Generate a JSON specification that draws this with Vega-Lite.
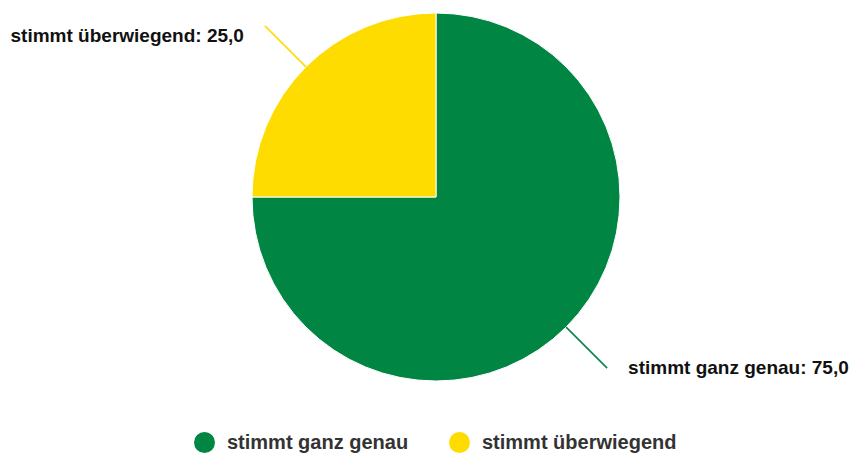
{
  "$schema": "https://vega.github.io/schema/vega-lite/v6.json",
  "autosize": {"type": "none"},
  "padding": {"left": 18, "top": 0, "right": 0, "bottom": 64},
  "width": 836,
  "height": 394,
  "background": "white",
  "config": {"view": {"stroke": null}},
  "data": {
    "values": [
      {"cat": "stimmt ganz genau", "value": 75.0, "label": "stimmt ganz genau: 75,0"},
      {"cat": "stimmt überwiegend", "value": 25.0, "label": "stimmt überwiegend: 25,0"}
    ]
  },
  "encoding": {
    "theta": {"field": "value", "type": "quantitative", "stack": true}
  },
  "layer": [
    {
      "mark": {"type": "arc", "outerRadius": 184, "stroke": "white", "strokeWidth": 1},
      "encoding": {
        "color": {
          "field": "cat",
          "type": "nominal",
          "scale": {"domain": ["stimmt ganz genau", "stimmt überwiegend"], "range": ["#008542", "#FFDC00"]},
          "legend": {
            "title": null,
            "orient": "none",
            "direction": "horizontal",
            "legendX": 176,
            "legendY": 432,
            "padding": 0,
            "symbolType": "circle",
            "symbolSize": 441,
            "symbolStrokeWidth": 0,
            "symbolOpacity": 1,
            "labelFont": "Liberation Sans",
            "labelFontSize": 20,
            "labelFontWeight": "bold",
            "labelColor": "#333333",
            "labelOffset": 12,
            "columnPadding": 40,
            "labelLimit": 400
          }
        }
      }
    },
    {
      "transform": [
        {"stack": "value", "groupby": [], "sort": [{"field": "cat", "order": "ascending"}], "as": ["v0", "v1"]},
        {"fold": ["v0", "v1"], "as": ["edge", "ang"]},
        {"aggregate": [{"op": "mean", "field": "ang", "as": "mid"}], "groupby": ["cat"]}
      ],
      "mark": {"type": "arc", "innerRadius": 184, "outerRadius": 242, "filled": false, "strokeWidth": 1.5},
      "encoding": {
        "theta": {"field": "mid", "type": "quantitative", "stack": null},
        "theta2": {"field": "mid"},
        "color": {"field": "cat", "type": "nominal", "legend": null}
      }
    },
    {
      "mark": {"type": "text", "radius": 242, "align": "right", "baseline": "alphabetic", "dx": -21, "dy": 16, "font": "Liberation Sans", "fontSize": 19, "fontWeight": "bold", "color": "#111111"},
      "encoding": {
        "detail": {"field": "cat", "type": "nominal"},
        "text": {"condition": {"test": "datum.cat === 'stimmt überwiegend'", "field": "label"}, "value": ""}
      }
    },
    {
      "mark": {"type": "text", "radius": 242, "align": "left", "baseline": "alphabetic", "dx": 21, "dy": 6, "font": "Liberation Sans", "fontSize": 19, "fontWeight": "bold", "color": "#111111"},
      "encoding": {
        "detail": {"field": "cat", "type": "nominal"},
        "text": {"condition": {"test": "datum.cat === 'stimmt ganz genau'", "field": "label"}, "value": ""}
      }
    }
  ]
}
